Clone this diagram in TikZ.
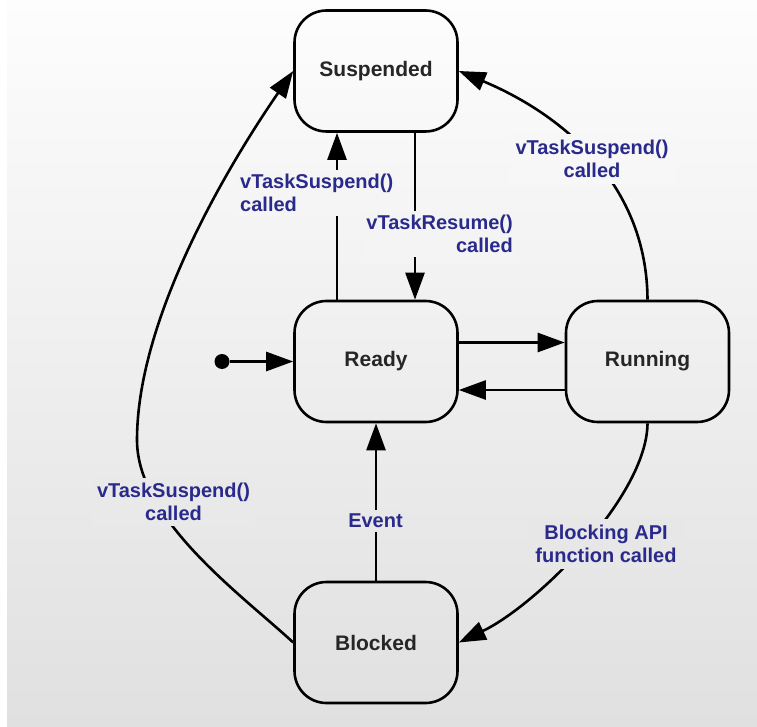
\documentclass[tikz,border=0pt]{standalone}
\usepackage{fontspec}
\setmainfont{Liberation Sans}
\usetikzlibrary{arrows.meta}

\definecolor{bgtop}{RGB}{253,253,253}
\definecolor{bgbot}{RGB}{224,224,224}
\definecolor{labelblue}{RGB}{42,42,140}
\definecolor{statetext}{RGB}{38,38,38}

\begin{document}
\begin{tikzpicture}[x=1pt,y=1pt,
  state/.style={draw=black, line width=2.6pt, rounded corners=32pt,
    minimum width=163pt, minimum height=121pt, inner sep=0pt,
    font=\fontsize{21}{25}\selectfont\bfseries, text=statetext},
  trans/.style={draw=black, line width=2.6pt,
    -{Triangle[length=27pt,width=19pt]}},
  evlabel/.style={font=\fontsize{20}{23}\selectfont\bfseries,
    text=labelblue, inner sep=4pt},
]
% page and soft vertical backdrop
\fill[white] (0,0) rectangle (757,-727);
\shade[top color=bgtop, bottom color=bgbot] (7,0) rectangle (757,-727);
\useasboundingbox (0,0) rectangle (757,-727);

% task states
\node[state] (susp)  at (376,-71)    {Suspended};
\node[state] (ready) at (376,-361.5) {Ready};
\node[state] (run)   at (647.5,-361.5) {Running};
\node[state] (block) at (376,-642.5) {Blocked};
\node[circle, fill=black, inner sep=0pt, minimum size=15pt] (init) at (222,-361.5) {};
\coordinate (leftbend) at (137,-440);

% transitions
\draw[trans] (init) -- (ready.west);
\draw[trans] ([xshift=-39pt]ready.north) -- ([xshift=-39pt]susp.south);
\draw[trans] ([xshift=39pt]susp.south) -- ([xshift=39pt]ready.north);
\draw[trans] ([yshift=19pt]ready.east) -- ([yshift=19pt]run.west);
\draw[trans] ([yshift=-28.5pt]run.west) -- ([yshift=-28.5pt]ready.east);
\draw[trans] (block.north) -- (ready.south);
\draw[trans] (run.north) .. controls (647,-187) and (566,-116) .. (susp.east);
\draw[trans] (run.south) .. controls (647,-496) and (537,-605) .. (block.east);
\draw[trans] (block.west) .. controls (242.6,-595.6) and (137,-520) .. (leftbend)
  .. controls (137,-320) and (225,-170) .. (susp.west);

% transition labels
\node[evlabel, align=left, anchor=west, fill=bgbot!26!bgtop] (lbla) at (236,-193) {vTaskSuspend()\\called};
\node[evlabel, align=right, anchor=east, fill=bgbot!32!bgtop] (lblb) at (517,-234) {vTaskResume()\\called};
\node[evlabel, align=center, inner sep=6pt, fill=bgbot!22!bgtop] (lblc) at (592,-159) {vTaskSuspend()\\called};
\node[evlabel, align=center, inner sep=5pt, fill=bgbot!69!bgtop] (lbld) at (173.5,-502) {vTaskSuspend()\\called};
\node[evlabel, fill=bgbot!72!bgtop] (lble) at (375.5,-521) {Event};
\node[evlabel, align=center, inner sep=6pt, fill=bgbot!75!bgtop] (lblf) at (606,-544) {Blocking API\\function called};
\end{tikzpicture}
\end{document}
